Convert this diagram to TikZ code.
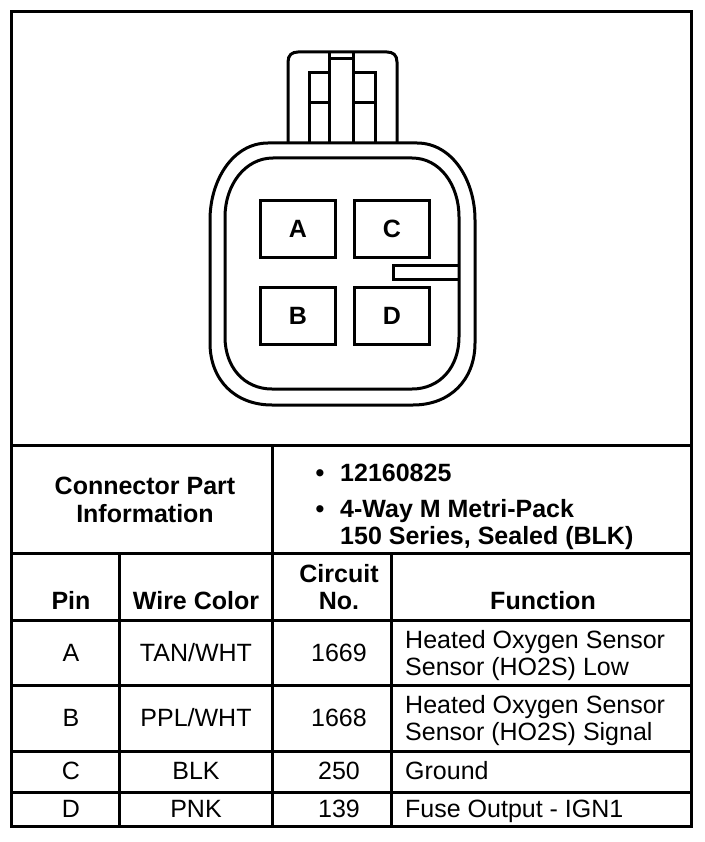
\documentclass[tikz,border=0pt]{standalone}
\usepackage{fontspec}
\setmainfont{Liberation Sans}
\tikzset{
  wall/.style={line width=3pt},
  cell/.style={anchor=base,inner sep=0pt,font=\fontsize{25}{27}\selectfont},
  head/.style={cell,font=\fontsize{25}{27}\selectfont\bfseries},
  func/.style={cell,anchor=base west},
  pin/.style={draw,wall,minimum width=75pt,minimum height=57pt,inner sep=0pt,font=\fontsize{25}{27}\selectfont\bfseries}
}
\begin{document}
\begin{tikzpicture}[x=1pt,y=-1pt]
\useasboundingbox (0,0) rectangle (704,842);
% connector body
\draw[wall](268,143)--(417,143) .. controls (452,143) and (475,180) .. (475,220)--(475,343) .. controls (475,380) and (450,405) .. (413,405)--(272,405) .. controls (235,405) and (210,380) .. (210,343)--(210,220) .. controls (210,180) and (233,143) .. (268,143)--cycle;
\draw[wall](273,158)--(412,158) .. controls (440,158) and (459,185) .. (459,217)--(459,337) .. controls (459,367) and (440,389) .. (412,389)--(272,389) .. controls (244,389) and (225,367) .. (225,337)--(225,217) .. controls (225,185) and (245,158) .. (273,158)--cycle;
% latch on top
\draw[wall](288,143)--(288,62) .. controls (288,55) and (292,52) .. (298,52)--(387,52) .. controls (393,52) and (397,55) .. (397,62)--(397,143);
\draw[wall](329,52)--(329,143);
\draw[wall](353,52)--(353,143);
\draw[wall](329,59)--(353,59);
\draw[wall](329,73)--(309,73)--(309,143);
\draw[wall](353,73)--(375,73)--(375,143);
\draw[wall](309,103)--(329,103);
\draw[wall](353,103)--(375,103);
% pins
\foreach \n/\x/\y in {A/298/229,C/392/229,B/298/316,D/392/316}
{ \node (pin\n) at (\x,\y)[pin]{\n};
}
\draw[wall](459,265)--(393,265)--(393,279)--(459,279);
% table
\draw[wall](11,12) rectangle (691,826);
\foreach \y in {445,553,620,685,751,792}
{ \draw[wall](11,\y)--(691,\y);
}
\draw[wall](272,445)--(272,826);
\draw[wall](119,553)--(119,826);
\draw[wall](391,553)--(391,826);
\node (partA) at (145,494)[head]{Connector Part};
\node (partB) at (145,522)[head]{Information};
\node (dotA) at (320,481)[head]{•};
\node (dotB) at (320,517)[head]{•};
\node (numA) at (340,481)[head,anchor=base west]{12160825};
\node (typeA) at (340,517)[head,anchor=base west]{4-Way M Metri-Pack};
\node (typeB) at (340,544)[head,anchor=base west]{150 Series, Sealed (BLK)};
\node (headPin) at (71,609)[head]{Pin};
\node (headWire) at (196,609)[head]{Wire Color};
\node (headCirc) at (339,582)[head]{Circuit};
\node (headNo) at (339,609)[head]{No.};
\node (headFunc) at (543,609)[head]{Function};
\foreach \n/\w/\c/\y in {A/TAN\slash WHT/1669/661,B/PPL\slash WHT/1668/726,C/BLK/250/779,D/PNK/139/817}
{ \node (row\n) at (71,\y)[cell]{\n};
  \node (wire\n) at (196,\y)[cell]{\w};
  \node (circ\n) at (339,\y)[cell]{\c};
}
\node (funcA) at (405,648)[func]{Heated Oxygen Sensor};
\node (funcAb) at (405,675)[func]{Sensor (HO2S) Low};
\node (funcB) at (405,713)[func]{Heated Oxygen Sensor};
\node (funcBb) at (405,740)[func]{Sensor (HO2S) Signal};
\node (funcC) at (405,779)[func]{Ground};
\node (funcD) at (405,817)[func]{Fuse Output - IGN1};
\end{tikzpicture}
\end{document}
